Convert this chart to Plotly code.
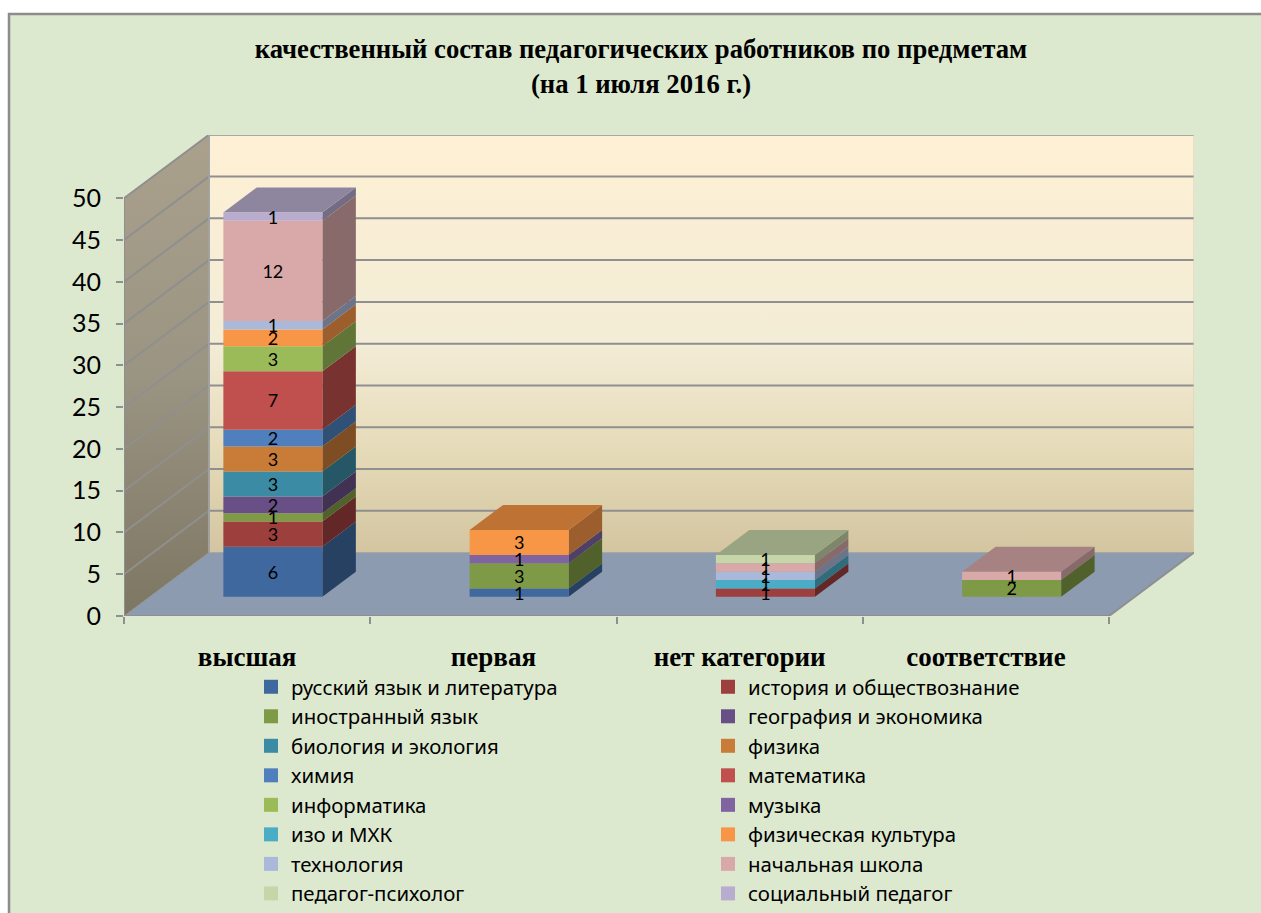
import plotly.graph_objects as go

TITLE = "качественный состав педагогических работников по предметам<br>(на 1 июля 2016 г.)"
categories = ["высшая", "первая", "нет категории", "соответствие"]
series_names = ["русский язык и литература", "история и обществознание", "иностранный язык",
                "география и экономика", "биология и экология", "физика", "химия", "математика",
                "информатика", "музыка", "изо и МХК", "физическая культура", "технология",
                "начальная школа", "педагог-психолог", "социальный педагог"]
russian = [6, 1, 0, 0]
history = [3, 0, 1, 0]
foreign = [1, 3, 0, 2]
geography = [2, 0, 0, 0]
biology = [3, 0, 0, 0]
physics = [3, 0, 0, 0]
chemistry = [2, 0, 0, 0]
maths = [7, 0, 0, 0]
informatics = [3, 0, 0, 0]
music = [0, 1, 0, 0]
art = [0, 0, 1, 0]
sport = [2, 3, 0, 0]
technology = [1, 0, 1, 0]
primary = [12, 0, 1, 1]
psychologist = [0, 0, 1, 0]
social = [1, 0, 0, 0]
series_values = [russian, history, foreign, geography, biology, physics, chemistry, maths,
                 informatics, music, art, sport, technology, primary, psychologist, social]
series_colors = ["#3f689e", "#9c3f3d", "#7f9a47", "#684f85", "#3b8ba5", "#c97b38", "#4f7fbc", "#c0504d",
                 "#9bbb59", "#8064a2", "#4bacc6", "#f79646", "#aab9d9", "#d9a9a9", "#c7d6a9", "#b9adcf"]
y_ticks = list(range(0, 55, 5))

# oblique projection of the 3-D box onto the 2-D axes
DX, DY = 0.345, 7.6
D0, D1 = 0.303, 0.697
HALF = 0.201
YMAX = 50
LABEL_DROP = 0.3
GRID = "#8f8f8f"

L, R, T, B = 124, 1194, 135, 616
W, H = 1261, 913
px = lambda v: (v - L) / (R - L)
py = lambda v: (B - v) / (B - T)


def shade(hex_color, f):
    return "#" + "".join(f"{int(int(hex_color[i:i+2], 16) * f):02x}" for i in (1, 3, 5))


def proj(x, y, d):
    return x + d * DX, y + d * DY


fig = go.Figure()


def poly(points, **kw):
    xs = []
    ys = []
    for face in points:
        xs += [p[0] for p in face] + [None]
        ys += [p[1] for p in face] + [None]
    fig.add_trace(go.Scatter(x=xs, y=ys, mode="lines", fill="toself", line=dict(width=0),
                             hoverinfo="skip", showlegend=False, cliponaxis=False, **kw))


def line(xs, ys, color=GRID, width=2):
    fig.add_trace(go.Scatter(x=xs, y=ys, mode="lines", line=dict(color=color, width=width),
                             hoverinfo="skip", showlegend=False, cliponaxis=False))


n = len(categories)
# back wall
bx0, by0 = proj(0, 0, 1)
bx1, by1 = proj(n, YMAX, 1)
fig.add_trace(go.Scatter(
    x=[bx0, bx1, bx1, bx0, bx0], y=[by0, by0, by1, by1, by0], mode="lines", fill="toself",
    line=dict(width=0), hoverinfo="skip", showlegend=False,
    fillgradient=dict(type="vertical", colorscale=[[0, "#d3c5a0"], [0.25, "#e6dbb9"], [0.5, "#f3ecd6"], [1, "#fef0d4"]])))
# side wall
fig.add_trace(go.Scatter(
    x=[0, bx0, bx0, 0, 0], y=[0, by0, by1, YMAX, 0], mode="lines", fill="toself",
    line=dict(width=0), hoverinfo="skip", showlegend=False,
    fillgradient=dict(type="vertical", colorscale=[[0, "#7d7663"], [0.5, "#9a9482"], [1, "#aaa18c"]])))
# floor
poly([[(0, 0), (n, 0), (bx1, by0), (bx0, by0), (0, 0)]], fillcolor="#8c9bb0")
# grid on walls
for v in y_ticks:
    if v == 0:
        continue
    line([0, bx0, bx1], [v, v + DY, v + DY])
line([bx0, bx0], [by0, by1], color="#a0a0a0")
line([bx1, bx1], [by0, by1], color="#d8cfb4", width=1)
line([bx0, bx1], [by0, by0], color="#a8a8a0", width=1)
line([0, 0], [0, YMAX])
line([0, n], [0, 0])
line([n, bx1], [0, by0])
line([0, bx0], [0, by0], color="#8f8f8f", width=1)

# bars
tops = [sum(vals[c] for vals in series_values) for c in range(n)]
label_x, label_y, label_t = [], [], []
for s, (name, vals, col) in enumerate(zip(series_names, series_values, series_colors)):
    front, side, top = [], [], []
    lx, ly, lt = [], [], []
    for c, v in enumerate(vals):
        if not v:
            continue
        base = sum(series_values[k][c] for k in range(s))
        cx = c + 0.5
        a = proj(cx - HALF, base, D0)
        b = proj(cx + HALF, base, D0)
        cc = proj(cx + HALF, base + v, D0)
        e = proj(cx - HALF, base + v, D0)
        f = proj(cx + HALF, base, D1)
        g = proj(cx + HALF, base + v, D1)
        h = proj(cx - HALF, base + v, D1)
        front.append([a, b, cc, e, a])
        side.append([b, f, g, cc, b])
        if base + v == tops[c]:
            top.append([e, cc, g, h, e])
        lx.append(proj(cx, 0, D0)[0])
        ly.append(proj(cx, base + v / 2 - LABEL_DROP, D0)[1])
        lt.append(str(v))
    poly(side, fillcolor=shade(col, 0.63))
    if top:
        poly(top, fillcolor=shade(col, 0.77))
    poly(front, fillcolor=col)
    label_x.append(lx); label_y.append(ly); label_t.append(lt)

for lx, ly, lt in zip(label_x, label_y, label_t):
    fig.add_trace(go.Scatter(x=lx, y=ly, text=lt, mode="text", textposition="middle center",
                             textfont=dict(family="Lato", size=18, color="#000000"),
                             hoverinfo="skip", showlegend=False, cliponaxis=False))

# legend entries
for name, col in zip(series_names, series_colors):
    fig.add_trace(go.Scatter(x=[None], y=[None], mode="markers", name=name,
                             marker=dict(symbol="square", size=14, color=col)))

fig.add_shape(type="rect", xref="paper", yref="paper", x0=px(9), x1=px(1290), y0=py(14), y1=py(940),
              fillcolor="#dde9cf", line=dict(color="#8c8c8c", width=2.5), layer="below")

fig.update_layout(
    width=W, height=H, autosize=False,
    paper_bgcolor="#ffffff", plot_bgcolor="rgba(0,0,0,0)",
    margin=dict(l=L, r=W - R, t=T, b=H - B, pad=0, autoexpand=False),
    title=dict(text=TITLE, x=641 / W, xanchor="center", y=1 - 58 / H, yref="container", yanchor="top",
               font=dict(family="Liberation Serif", size=26.7, color="#000000", weight="bold")),
    xaxis=dict(range=[0, n + DX], showgrid=False, zeroline=False, showline=False,
               tickmode="array", tickvals=[c + 0.5 for c in range(n)], ticktext=categories, ticks="",
               ticklabelstandoff=22,
               tickfont=dict(family="Liberation Serif", size=27, color="#000000", weight="bold"),
               minor=dict(tickmode="array", tickvals=list(range(n + 1)), ticks="outside", ticklen=7,
                          tickwidth=2, tickcolor=GRID, showgrid=False)),
    yaxis=dict(range=[0, (B - T) / 8.354], showgrid=False, zeroline=False, showline=False,
               tickmode="array", tickvals=y_ticks, ticks="outside", ticklen=7, tickwidth=2, tickcolor=GRID,
               ticklabelstandoff=10,
               tickfont=dict(family="Lato", size=25, color="#000000")),
    legend=dict(orientation="h", x=px(251), xanchor="left", y=py(667), yanchor="top",
                entrywidth=412, entrywidthmode="pixels", bgcolor="rgba(0,0,0,0)",
                font=dict(family="Noto Sans", size=20.4, color="#000000"), traceorder="normal"),
    hovermode=False,
)
fig.write_html("out.html", config={"displayModeBar": False},
               post_script="document.body.style.margin='0';")
